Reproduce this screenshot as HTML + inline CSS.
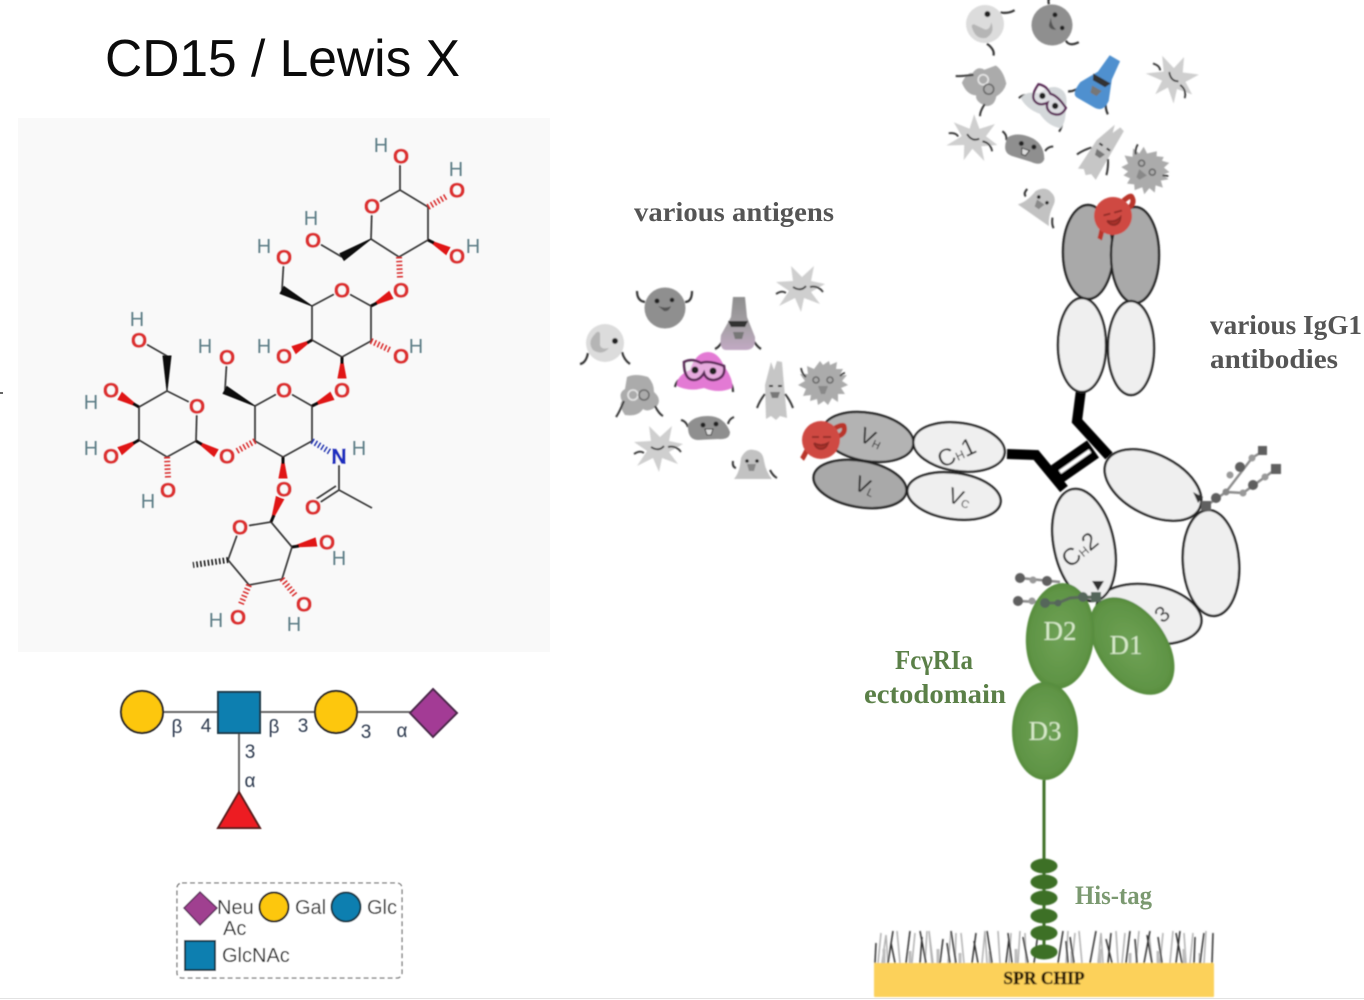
<!DOCTYPE html>
<html><head><meta charset="utf-8"><style>
html,body{margin:0;padding:0;background:#fff;width:1364px;height:1000px;overflow:hidden}
svg{display:block}
.o,.h,.n{font-family:"Liberation Sans",sans-serif;text-anchor:middle}
.o{font-size:21px;fill:#dd3030;font-weight:bold;stroke:#dd3030;stroke-width:.5px}
.n{font-size:21px;fill:#1f2fc0;font-weight:bold;stroke:#1f2fc0;stroke-width:.5px}
.h{font-size:20px;fill:#5f7f88}
.g{font-family:"Liberation Sans",sans-serif;font-size:19px;fill:#2d3a4f;text-anchor:middle}
.l{font-family:"Liberation Sans",sans-serif;font-size:20px;fill:#2b2b2b}
.s{font-family:"Liberation Serif",serif;font-weight:bold}
.ig{font-family:"Liberation Sans",sans-serif;fill:#222;text-anchor:middle}
.d{font-family:"Liberation Serif",serif;font-size:27px;fill:#d8ebca;text-anchor:middle}
</style></head><body>
<svg width="1364" height="1000" viewBox="0 0 1364 1000" xmlns="http://www.w3.org/2000/svg">
<defs>
<filter id="b" x="-5%" y="-5%" width="110%" height="110%"><feGaussianBlur stdDeviation="0.45"/></filter>
<filter id="b2" x="-10%" y="-10%" width="120%" height="120%"><feGaussianBlur stdDeviation="0.7"/></filter>
<radialGradient id="gr" cx="50%" cy="50%" r="62%"><stop offset="0%" stop-color="#6fa256"/><stop offset="70%" stop-color="#5f9445"/><stop offset="100%" stop-color="#467c2e"/></radialGradient>
<linearGradient id="fl" x1="0" y1="0" x2="0" y2="1"><stop offset="0%" stop-color="#8e8e8e"/><stop offset="55%" stop-color="#a5a0a5"/><stop offset="100%" stop-color="#c2a9c4"/></linearGradient>
<g id="ball"><path d="M-20 -6q-8 -1 -8 -11M20 -6q7 0 7 -11" fill="none" stroke="#333" stroke-width="2.200"/><circle r="20.500"/><circle cx="-8" cy="-7" r="2.500" fill="#222"/><circle cx="7" cy="-8" r="2.300" fill="#222"/><path d="M-7 -2q8 3 13 0q-2 6 -7 5z" fill="#555"/></g>
<g id="moon"><path d="M-17 10q-2 10 -8 11M17 9q2 8 8 12" fill="none" stroke="#333" stroke-width="2.200"/><circle r="19"/><path d="M-10 -9q-8 8 -2 16q9 6 16 -2q-8 2 -9 -3q0 -9 0 -12q-2 -3 -5 1z" fill="#b5b5b5"/><circle cx="10" cy="-2" r="3" fill="#222"/></g>
<g id="flask"><path d="M-14 13q-4 9 -9 11M14 13q4 8 9 11" fill="none" stroke="#333" stroke-width="2.200"/><path d="M-5 -28L7 -28L9 -8L17 12Q18 25 8 25L-12 25Q-19 25 -17 10L-7 -8Z"/><path d="M-10 -4h20l-3 6h-14z" fill="#333"/><path d="M-5 7h11l-2 7h-7z" fill="#777"/></g>
<g id="star"><polygon points="2,-11 14,-22 11,-7 25,-4 11,4 20,16 4,10 1,24 -5,10 -21,18 -11,3 -24,-6 -7,-7 -9,-22"/><path d="M-24 6q6 -4 10 -1M10 -1q8 -2 13 5M-7 -1q8 5 13 -1" fill="none" stroke="#333" stroke-width="1.800"/></g>
<g id="blob"><path d="M-11 -20Q-3 -24 10 -20Q16 -14 16 -5Q24 2 19 9Q10 16 5 12Q0 20 -13 18Q-20 8 -16 4Q-20 -4 -13 -8Z"/><path d="M-14 4q-5 12 -8 16M17 9q4 8 8 10" fill="none" stroke="#333" stroke-width="2"/><circle cx="-5" cy="-2" r="5" fill="none" stroke="#e8e8e8" stroke-width="1.600"/><circle cx="6" cy="-2" r="5" fill="none" stroke="#666" stroke-width="1.600"/></g>
<g id="tall"><path d="M-4 -28L-1 -20L2 -29L7 -28L9 -5L12 28L5 26L1 30L-4 26L-9 29L-10 -5Z"/><path d="M-10 4q-5 6 -8 14M10 4q5 6 8 14" fill="none" stroke="#333" stroke-width="2"/><path d="M-6 -4h4M3 -4h4" stroke="#222" stroke-width="2"/><path d="M-5 2h10l-2 6h-6z" fill="#777"/></g>
<g id="spiky"><polygon points="-3,-22 0,-18 6,-22 7,-18 14,-21 13,-14 20,-14 17,-8 24,-8 19,-2 25,2 18,5 22,11 15,11 15,19 9,15 5,22 1,18 -5,22 -6,16 -13,18 -12,12 -20,13 -17,6 -25,2 -18,-2 -23,-9 -15,-9 -16,-17 -9,-14"/><path d="M-17 -6q-4 -3 -5 -9M17 -7q3 -3 5 -3" fill="none" stroke="#333" stroke-width="1.800"/><circle cx="-7" cy="-3" r="3" fill="none" stroke="#666" stroke-width="1.600"/><circle cx="7" cy="-3" r="3" fill="none" stroke="#666" stroke-width="1.600"/><path d="M-5 3h10l-3 8h-4z" fill="#888"/></g>
<g id="bean"><path d="M-20 -1q-2 -6 -7 -7M20 -4q1 -5 6 -7" fill="none" stroke="#333" stroke-width="2"/><path d="M-20 -4Q-14 -12 0 -12Q16 -12 22 4Q22 12 10 11L-10 12Q-21 12 -20 -4Z"/><circle cx="-5" cy="-3" r="2.500" fill="#222"/><circle cx="8" cy="-4" r="2.500" fill="#222"/><path d="M-3 1h8l-2 6h-4z" fill="#ddd" stroke="#333"/></g>
<g id="bell"><path d="M-16 2q-4 -1 -3 -7M18 4q3 6 7 8" fill="none" stroke="#333" stroke-width="2"/><path d="M-11 -8Q-6 -18 2 -16Q11 -15 12 -5Q14 6 20 13L-18 13Q-12 6 -11 -8Z"/><path d="M-5 -2h9l-2 7h-5z" fill="#888"/><circle cx="-5" cy="-5" r="1.800" fill="#222"/><circle cx="5" cy="-5" r="1.800" fill="#222"/></g>
<g id="gog"><path d="M-18 6q-9 0 -11 9M22 6q7 5 7 14" fill="none" stroke="#333" stroke-width="2.200"/><path d="M-27 14Q-28 4 -14 -2Q-8 -20 4 -20Q14 -20 20 -6Q30 8 28 16Q15 22 0 16Q-15 20 -27 14Z"/><path d="M-20 -10Q-12 -14 -3 -9Q5 -12 20 -6Q22 6 10 8Q2 8 0 1Q-4 8 -10 8Q-20 8 -20 -10Z" fill="#e9e6ea" stroke="#5b2a58" stroke-width="2.600" fill-opacity=".45"/><circle cx="-9" cy="-2" r="3.500" fill="#222"/><circle cx="9" cy="-1" r="3.500" fill="#222"/></g>
<g id="red"><path d="M14 -12q8 -4 9 -2q2 7 -5 10q-2 1 -4 1M-14 10q-4 8 -5 9" fill="none" stroke="#b9352c" stroke-width="5"/><circle r="19" fill="#cf4a42"/><path d="M-9 -3h7M2 -3h8M-7 3q7 4 14 0q-2 6 -7 6q-5 0 -7 -6" stroke="#8f2a25" stroke-width="1.800" fill="#a93029"/></g>
</defs>

<rect x="18" y="118" width="532" height="534" fill="#f9f9f9"/>
<path d="M0 393h3" stroke="#333" stroke-width="1.500"/>
<path d="M0 998.500H1364" stroke="#e2e2e2" stroke-width="1"/>
<text x="105" y="76" font-family="'Liberation Sans',sans-serif" font-size="52" fill="#0b0b0b" textLength="355" lengthAdjust="spacingAndGlyphs">CD15 / Lewis X</text>

<g filter="url(#b)">
<g fill="none" stroke="#3e3e3e" stroke-width="1.800">
<path d="M372 206L400 190 428 207 428 240 399 257 371 239Z"/>
<path d="M342 290L312 306 312 340 342 357 371 341 371 306Z"/>
<path d="M284 390L312 406 312 441 283 457 255 441 255 406Z"/>
<path d="M197 406L196 441 167 457 139 440 139 407 167 391Z"/>
<path d="M240 527L271 522 292 547 282 579 249 585 228 560Z"/>
<path d="M400 190V156M342 257L313 240M282 290L284 257M225 390L227 357M167 356L139 340M339 456V490L372 508M339 490L313 507M336 486L310 503"/>
</g>
<g fill="#111" stroke="#111" stroke-width="1">
<polygon points="371,239 344.100,260.400 339.900,253.600"/>
<polygon points="312,306 283.900,286.500 280.100,293.500"/>
<polygon points="255,406 226.900,386.500 223.100,393.500"/>
<polygon points="167,391 163,356 171,356"/>
</g>
<g fill="#e01818" stroke="#e01818" stroke-width="1">
<polygon points="428,240 449.900,247.500 446.100,254.500"/>
<polygon points="371,306 392.900,298.500 389.100,291.500"/>
<polygon points="312,340 295.900,353.500 292.100,346.500"/>
<polygon points="342,357 338,378 346,378"/>
<polygon points="312,406 333.800,399.600 330.200,392.400"/>
<polygon points="283,457 279,478 287,478"/>
<polygon points="196,441 214,456.400 218,449.600"/>
<polygon points="139,407 122,392.500 118,399.500"/>
<polygon points="139,440 122,454.500 118,447.500"/>
<polygon points="271,522 283.700,499.400 276.300,496.600"/>
<polygon points="292,547 316.800,546 315.200,538"/>
</g>
<path d="M428 240l6 3M371 306l6 -3M312 340l-5 3M342 357v7M312 406l6 -3M283 457v7M196 441l6 3.500M139 407l-6 -3.500M139 440l-6 3.500M271 522l3 -7M292 547l7 -1" stroke="#111" stroke-width="3" fill="none"/>
<g fill="none" stroke-width="6" stroke-dasharray="1.500 2.300">
<path d="M428 207L447 196M399 257L400 278M371 341L390 350M255 441L237 451M167 457L168 478M282 579L295 595M249 585L241 604" stroke="#d92828"/>
<path d="M312 441L330 452" stroke="#2435b0"/>
<path d="M228 560L193 565" stroke="#111"/>
</g>
<g fill="#f9f9f9">
<circle cx="401" cy="156" r="9"/><circle cx="457" cy="190" r="9"/><circle cx="372" cy="206" r="9"/><circle cx="457" cy="256" r="9"/><circle cx="313" cy="240" r="9"/><circle cx="401" cy="290" r="9"/><circle cx="342" cy="290" r="9"/><circle cx="284" cy="257" r="9"/><circle cx="284" cy="356" r="9"/><circle cx="401" cy="356" r="9"/><circle cx="342" cy="390" r="9"/><circle cx="284" cy="390" r="9"/><circle cx="227" cy="357" r="9"/><circle cx="227" cy="456" r="9"/><circle cx="339" cy="456" r="9"/><circle cx="313" cy="507" r="9"/><circle cx="284" cy="489" r="9"/><circle cx="197" cy="406" r="9"/><circle cx="139" cy="340" r="9"/><circle cx="111" cy="390" r="9"/><circle cx="111" cy="456" r="9"/><circle cx="168" cy="490" r="9"/><circle cx="240" cy="527" r="9"/><circle cx="327" cy="542" r="9"/><circle cx="304" cy="604" r="9"/><circle cx="238" cy="617" r="9"/>
</g>
<g>
<text class="o" x="401" y="163.500">O</text><text class="h" x="381" y="152">H</text>
<text class="o" x="457" y="197.500">O</text><text class="h" x="456" y="176">H</text>
<text class="o" x="372" y="213.500">O</text>
<text class="o" x="457" y="263.500">O</text><text class="h" x="473" y="253">H</text>
<text class="o" x="313" y="247.500">O</text><text class="h" x="311" y="225">H</text>
<text class="o" x="401" y="297.500">O</text>
<text class="o" x="342" y="297.500">O</text>
<text class="o" x="284" y="264.500">O</text><text class="h" x="264" y="253">H</text>
<text class="o" x="284" y="363.500">O</text><text class="h" x="264" y="353">H</text>
<text class="o" x="401" y="363.500">O</text><text class="h" x="416" y="353">H</text>
<text class="o" x="342" y="397.500">O</text>
<text class="o" x="284" y="397.500">O</text>
<text class="o" x="227" y="364.500">O</text><text class="h" x="205" y="353">H</text>
<text class="o" x="227" y="463.500">O</text>
<text class="n" x="339" y="463.500">N</text><text class="h" x="359" y="455">H</text>
<text class="o" x="313" y="514.500">O</text>
<text class="o" x="284" y="496.500">O</text>
<text class="o" x="197" y="413.500">O</text>
<text class="o" x="139" y="347.500">O</text><text class="h" x="137" y="326">H</text>
<text class="o" x="111" y="397.500">O</text><text class="h" x="91" y="409">H</text>
<text class="o" x="111" y="463.500">O</text><text class="h" x="91" y="455">H</text>
<text class="o" x="168" y="497.500">O</text><text class="h" x="148" y="508">H</text>
<text class="o" x="240" y="534.500">O</text>
<text class="o" x="327" y="549.500">O</text><text class="h" x="339" y="565">H</text>
<text class="o" x="304" y="611.500">O</text><text class="h" x="294" y="631">H</text>
<text class="o" x="238" y="624.500">O</text><text class="h" x="216" y="627">H</text>
</g>
</g>

<g filter="url(#b)">
<path d="M142 712H434M239 734V800" stroke="#666" stroke-width="2" fill="none"/>
<circle cx="142" cy="712" r="21" fill="#fdc70c" stroke="#222" stroke-width="2"/>
<rect x="218" y="692" width="42" height="41" fill="#0a7fb0" stroke="#1c3a4a" stroke-width="2"/>
<circle cx="336" cy="712" r="21" fill="#fdc70c" stroke="#222" stroke-width="2"/>
<polygon points="433,689 457,713 433,737 410,713" fill="#a33b95" stroke="#4c2b4c" stroke-width="2"/>
<polygon points="239,792 260,828 218,828" fill="#ed1c24" stroke="#5a1a1a" stroke-width="2"/>
<text class="g" x="177" y="733">β</text><text class="g" x="206" y="732">4</text>
<text class="g" x="274" y="733">β</text><text class="g" x="303" y="732">3</text>
<text class="g" x="366" y="738">3</text><text class="g" x="402" y="737">α</text>
<text class="g" x="250" y="758">3</text><text class="g" x="250" y="787">α</text>

<rect x="177" y="883" width="225" height="95" rx="5" fill="#fff" stroke="#777" stroke-width="1.300" stroke-dasharray="5 3"/>
<polygon points="200,892 217,908 200,925 184,908" fill="#a03f90" stroke="#5e2e5e" stroke-width="1.500"/>
<circle cx="274" cy="907" r="14.500" fill="#fdc70c" stroke="#222" stroke-width="2"/>
<circle cx="346" cy="907" r="14.500" fill="#0a7fb0" stroke="#173a4a" stroke-width="2"/>
<rect x="185" y="941" width="30" height="29" fill="#0a7fb0" stroke="#173a4a" stroke-width="2"/>
<text class="l" x="217" y="914">Neu</text><text class="l" x="223" y="935">Ac</text>
<text class="l" x="295" y="914">Gal</text><text class="l" x="367" y="914">Glc</text>
<text class="l" x="222" y="962">GlcNAc</text>
</g>

<text class="s" x="634" y="221" font-size="27" fill="#555" textLength="200" lengthAdjust="spacingAndGlyphs">various antigens</text>
<text class="s" x="1210" y="334" font-size="27" fill="#555" textLength="152" lengthAdjust="spacingAndGlyphs">various IgG1</text>
<text class="s" x="1210" y="368" font-size="27" fill="#555" textLength="128" lengthAdjust="spacingAndGlyphs">antibodies</text>
<text class="s" x="895" y="669" font-size="27" fill="#5b8048" textLength="78" lengthAdjust="spacingAndGlyphs">FcγRIa</text>
<text class="s" x="864" y="703" font-size="27" fill="#5b8048" textLength="142" lengthAdjust="spacingAndGlyphs">ectodomain</text>
<text x="1075" y="904" font-family="'Liberation Serif',serif" font-weight="bold" font-size="26" fill="#7b9970" textLength="77" lengthAdjust="spacingAndGlyphs">His-tag</text>

<g filter="url(#b2)">
<g fill="none" stroke="#000" stroke-width="10" stroke-linejoin="miter">
<path d="M1007 454L1036 455 1064 489" />
<path d="M1081 390L1077 421 1109 456"/>
<path d="M1057 474L1093 449" stroke-width="21"/>
<path d="M1060 472L1090 451" stroke="#fff" stroke-width="4"/>
</g>
<g stroke="#222" stroke-width="2.400">
<ellipse cx="1088" cy="252" rx="25" ry="47" fill="#a9a9a9"/>
<ellipse cx="1135" cy="255" rx="24" ry="48" fill="#a9a9a9"/>
<ellipse cx="1082" cy="345" rx="24" ry="47" fill="#efefef"/>
<ellipse cx="1131" cy="348" rx="23" ry="47" fill="#efefef"/>
<ellipse cx="868" cy="437" rx="46" ry="24" transform="rotate(10 868 437)" fill="#b3b3b3"/>
<ellipse cx="860" cy="484" rx="47" ry="23" transform="rotate(10 860 484)" fill="#a9a9a9"/>
<ellipse cx="959" cy="447" rx="46" ry="24" transform="rotate(8 959 447)" fill="#efefef"/>
<ellipse cx="954" cy="496" rx="47" ry="23" transform="rotate(8 954 496)" fill="#efefef"/>
<ellipse cx="1153" cy="485" rx="52" ry="30" transform="rotate(27 1153 485)" fill="#efefef"/>
<ellipse cx="1211" cy="563" rx="28" ry="53" transform="rotate(-4 1211 563)" fill="#efefef"/>
<ellipse cx="1149" cy="614" rx="53" ry="29" transform="rotate(10 1149 614)" fill="#efefef"/>
<ellipse cx="1084" cy="545" rx="30" ry="57" transform="rotate(-12 1084 545)" fill="#efefef"/>
</g>
<polygon points="1092,581 1104,581 1098,591" fill="#333"/>
<polygon points="1193,492 1203,497 1198,503" fill="#333"/>
<text class="ig" font-size="22" transform="translate(868 445) rotate(25)">V<tspan font-size="11">H</tspan></text>
<text class="ig" font-size="22" transform="translate(862 493) rotate(25)">V<tspan font-size="11">L</tspan></text>
<text class="ig" font-size="24" transform="translate(960 460) rotate(-25)">C<tspan font-size="12">H</tspan>1</text>
<text class="ig" font-size="22" transform="translate(957 505) rotate(20)">V<tspan font-size="11">C</tspan></text>
<text class="ig" font-size="24" transform="translate(1085 556) rotate(-40)">C<tspan font-size="12">H</tspan>2</text>
<text class="ig" font-size="22" transform="translate(1167 620) rotate(-40)">3</text>

<g fill="none" stroke="#8a8a8a" stroke-width="2.400"><path d="M1206 506L1226 492 1252 458 1263 451M1226 492L1243 493 1276 469M1020 578L1060 582M1018 601L1058 603 1097 597"/></g>
<g fill="#5e5e5e"><rect x="1201" y="501" width="10" height="10"/><circle cx="1216" cy="498" r="5"/><circle cx="1226" cy="492" r="3.500" fill="#888"/><circle cx="1230" cy="475" r="3.500" fill="#999"/><circle cx="1240" cy="467" r="5"/><circle cx="1252" cy="458" r="3.500" fill="#999"/><rect x="1258" y="446" width="9" height="9"/><circle cx="1243" cy="493" r="3.500" fill="#999"/><circle cx="1253" cy="485" r="5"/><circle cx="1265" cy="477" r="3.500" fill="#999"/><rect x="1271" y="464" width="10" height="10"/><circle cx="1020" cy="578" r="5"/><circle cx="1033" cy="580" r="3.500" fill="#999"/><circle cx="1047" cy="581" r="5"/><circle cx="1018" cy="601" r="5"/><circle cx="1032" cy="601" r="3.500" fill="#999"/></g>

<ellipse cx="1132" cy="646" rx="34" ry="55" transform="rotate(-36 1132 646)" fill="url(#gr)"/>
<ellipse cx="1060" cy="636" rx="34" ry="53" transform="rotate(5 1060 636)" fill="url(#gr)"/>
<ellipse cx="1045" cy="731" rx="33" ry="49" fill="url(#gr)"/>
<path d="M1045 603L1058 603 1070 598 1083 597 1097 597" fill="none" stroke="#5a6a5a" stroke-width="3"/>
<g fill="#55665a"><circle cx="1045" cy="603" r="5"/><circle cx="1058" cy="603" r="3.500"/><circle cx="1083" cy="597" r="5"/><rect x="1091" y="592" width="10" height="10"/></g>
<text class="d" x="1060" y="640">D2</text><text class="d" x="1126" y="654">D1</text><text class="d" x="1045" y="740">D3</text>

<rect x="874" y="963" width="340" height="34" rx="1" fill="#fcd15a"/>
<g fill="none" stroke-width="1.500">
<path stroke="#b0b0b0" d="M878 963l3-30M882 963l4-28 2 28M900 963l-3-32M912 963l3-30M925 963l2-32M932 963l-3-32 4 32M948 963l3-32M955 963l1-30M964 963l-3-30M982 963l3-32 2 32M1000 963l-2-32M1009 963l2-30M1018 963l2-32M1026 963l-1-30M1066 963l2-32M1072 963l3-30M1082 963l-3-32M1098 963l3-30 2 30M1118 963l-2-32M1122 963l3-30M1136 963l3-32M1152 963l-3-30M1160 963l3-30M1170 963l3-32M1186 963l-2-30M1190 963l3-30M1204 963l2-32"/>
<path stroke="#bdbdbd" stroke-width="3" d="M884 963v-14M910 963v-12M938 963v-14M960 963v-10M990 963v-12M1016 963v-14M1072 963v-12M1100 963v-14M1130 963v-10M1158 963v-12M1184 963v-14M1200 963v-10"/>
<path stroke="#2c2c2c" d="M875 963l1-20M888 963l5-32M895 963l-4-20M906 963l4-32M920 963l2-26M926 963l-6-32M940 963l3-24M950 963l-3-20M956 963l-5-32M972 963l4-30M978 963l-4-22M992 963l-5-32M1006 963l3-24M1012 963l-4-30M1028 963l-5-26M1034 963l4-30M1058 963l5-32M1068 963l-2-22M1074 963l-4-26M1090 963l6-32M1108 963l3-30M1112 963l-6-24M1126 963l4-32M1137 963l-2-24M1144 963l6-32M1152 963l-5-28M1162 963l-4-26M1176 963l4-32M1182 963l-6-30M1194 963l1-26M1200 963l4-30M1212 963l1-30"/>
</g>
<path d="M1044 780V958" stroke="#3d7028" stroke-width="3"/>
<g fill="#3d7028"><ellipse cx="1044" cy="866" rx="13.500" ry="7.500"/><ellipse cx="1044" cy="882" rx="13.500" ry="7.500"/><ellipse cx="1044" cy="898" rx="13.500" ry="7.500"/><ellipse cx="1044" cy="916" rx="13.500" ry="7.500"/><ellipse cx="1044" cy="933" rx="13.500" ry="7.500"/><ellipse cx="1044" cy="952" rx="13.500" ry="7.500"/></g>
<text class="s" x="1044" y="984" font-size="17.500" fill="#1e0e00" stroke="#1e0e00" stroke-width=".4" text-anchor="middle">SPR CHIP</text>

<use href="#ball" transform="translate(665 308)" fill="#8f8f8f"/>
<use href="#moon" transform="translate(605 343)" fill="#dcdcdc"/>
<use href="#flask" transform="translate(738 325)" fill="url(#fl)"/>
<use href="#star" transform="translate(800 288)" fill="#cfcfcf"/>
<use href="#gog" transform="translate(704 372)" fill="#e37ad4"/>
<use href="#blob" transform="translate(638 397)" fill="#ababab"/>
<use href="#tall" transform="translate(775 390)" fill="#c6c6c6"/>
<use href="#spiky" transform="translate(823 383)" fill="#ababab"/>
<use href="#bean" transform="translate(708 428)" fill="#8f8f8f"/>
<use href="#star" transform="translate(658 448)" fill="#cfcfcf"/>
<use href="#bell" transform="translate(752 466)" fill="#c2c2c2"/>
<use href="#red" transform="translate(821 440)"/>

<use href="#moon" transform="translate(985 24) rotate(-65)" fill="#dcdcdc"/>
<use href="#ball" transform="translate(1052 25) rotate(65)" fill="#8f8f8f"/>
<use href="#blob" transform="translate(984 85) rotate(60)" fill="#ababab"/>
<use href="#gog" transform="translate(1048 102) rotate(35) scale(.9)" fill="#d4d8da"/>
<use href="#flask" transform="translate(1100 82) rotate(30)" fill="#4f90cf"/>
<use href="#star" transform="translate(1173 78) rotate(50)" fill="#cfcfcf"/>
<use href="#star" transform="translate(973 138) rotate(25)" fill="#cfcfcf"/>
<use href="#bean" transform="translate(1025 148) rotate(20)" fill="#8f8f8f"/>
<use href="#tall" transform="translate(1102 150) rotate(35)" fill="#c6c6c6"/>
<use href="#spiky" transform="translate(1145 170) rotate(40)" fill="#ababab"/>
<use href="#bell" transform="translate(1040 204) rotate(35)" fill="#c2c2c2"/>
<use href="#red" transform="translate(1113 216) rotate(-15)"/>
</g>
</svg>
</body></html>
